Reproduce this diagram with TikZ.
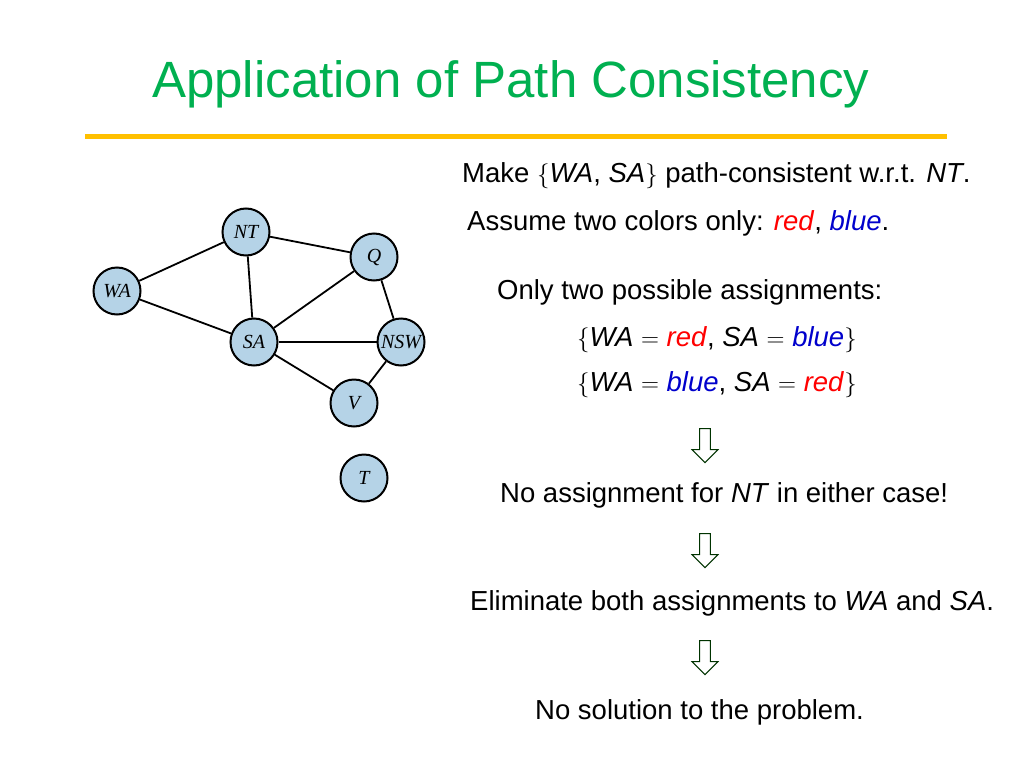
\documentclass[tikz,border=0pt]{standalone}
\usepackage{fontspec}
\setmainfont{Liberation Sans}
\newfontfamily\graphfont{Liberation Serif}
\usetikzlibrary{shapes.arrows}
\definecolor{titlegreen}{RGB}{0,176,80}
\definecolor{rulegold}{RGB}{255,192,0}
\definecolor{statefill}{RGB}{181,211,231}
\definecolor{myred}{RGB}{255,0,0}
\definecolor{myblue}{RGB}{0,0,204}
\begin{document}
\begin{tikzpicture}[
    x=1pt, y=-1pt,
    state/.style={circle, draw, line width=2pt, fill=statefill, minimum size=47pt, inner sep=0pt, font=\graphfont\itshape\fontsize{20}{24}\selectfont},
    edge/.style={line width=1.8pt},
    txt/.style={anchor=west, font=\fontsize{27.5}{32}\selectfont, inner sep=0pt},
    downarrow/.style={single arrow, draw=black!80!green, line width=1pt, fill=white, shape border rotate=270, minimum width=26pt, single arrow head extend=5pt, minimum height=34pt, inner sep=3pt}
]
\useasboundingbox (0,0) rectangle (1024,768);

% === TITLE ===
\node[anchor=west, inner sep=0pt, text=titlegreen, font=\fontsize{51}{60}\selectfont] (title) at (152,84) {Application of Path Consistency};
\draw[rulegold, line width=5pt] (85,136) -- (947,136);

% === MAP GRAPH ===
\node[state] (NT) at (246,232) {NT};
\node[state] (Q) at (374,257) {Q};
\node[state] (WA) at (117,291) {WA};
\node[state] (SA) at (254,342) {SA};
\node[state] (NSW) at (401,342) {NSW};
\node[state] (V) at (354,403) {V};
\node[state] (T) at (364,478) {T};

\foreach \a/\b in {WA/NT, WA/SA, NT/SA, NT/Q, SA/Q, SA/NSW, SA/V, Q/NSW, NSW/V}
    \draw[edge] (\a) -- (\b);

% === TEXT ===
\node[txt] (make) at (462,176) {Make $\{$\textit{WA}, \textit{SA}$\}$ path-consistent w.r.t. \textit{NT}.};
\node[txt] (assume) at (467,223) {Assume two colors only: \textcolor{myred}{\textit{red}}, \textcolor{myblue}{\textit{blue}}.};
\node[txt] (only) at (497,292) {Only two possible assignments:};
\node[txt] (asgA) at (577,340) {$\{$\textit{WA} $=$ \textcolor{myred}{\textit{red}}, \textit{SA} $=$ \textcolor{myblue}{\textit{blue}}$\}$};
\node[txt] (asgB) at (577,385) {$\{$\textit{WA} $=$ \textcolor{myblue}{\textit{blue}}, \textit{SA} $=$ \textcolor{myred}{\textit{red}}$\}$};
\node[downarrow] (arrA) at (705,443) {};
\node[txt] (noasg) at (500,495) {No assignment for \textit{NT} in either case!};
\node[downarrow] (arrB) at (705,548) {};
\node[txt] (elim) at (470,603) {Eliminate both assignments to \textit{WA} and \textit{SA}.};
\node[downarrow] (arrC) at (705,655) {};
\node[txt] (nosol) at (535,712) {No solution to the problem.};

\end{tikzpicture}
\end{document}
